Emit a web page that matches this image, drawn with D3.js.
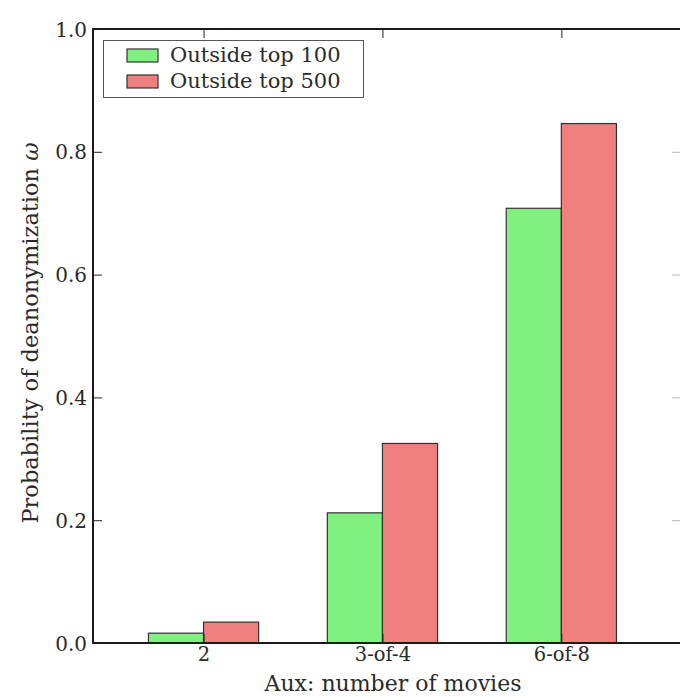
<!DOCTYPE html>
<html>
<head>
<meta charset="utf-8">
<script src="https://cdn.jsdelivr.net/npm/d3@7"></script>
<style>
  html, body { margin: 0; padding: 0; background: #fff; }
  svg { display: block; }
  text { font-family: "DejaVu Serif", "Liberation Serif", serif; fill: #2a2a2a; }
</style>
</head>
<body>
<svg id="chart" width="680" height="697"></svg>
<script>
const categories = ["2", "3-of-4", "6-of-8"];
const seriesNames = ["Outside top 100", "Outside top 500"];
const top100 = [0.016, 0.212, 0.708];
const top500 = [0.034, 0.325, 0.846];
const yTicks = [0.0, 0.2, 0.4, 0.6, 0.8, 1.0];
const colors = ["#80f080", "#f08080"];

const svg = d3.select("#chart");
const mLeft = 93, mRight = 683, mTop = 29, mBottom = 643;

const x = d3.scaleLinear().domain([-0.618, 2.68]).range([mLeft, mRight]);
const y = d3.scaleLinear().domain([0, 1]).range([mBottom, mTop]);
const barW = 0.308;

const series = [top100, top500];
const g = svg.append("g");

series.forEach((vals, s) => {
  g.selectAll(null).data(vals).enter().append("rect")
    .attr("x", (d, i) => s === 0 ? x(i - barW) : x(i))
    .attr("width", x(barW) - x(0))
    .attr("y", d => y(d))
    .attr("height", d => y(0) - y(d))
    .attr("fill", colors[s])
    .attr("stroke", "#333")
    .attr("stroke-width", 1.2);
});

// y-axis (left) with inward ticks
const yAxis = d3.axisLeft(y).tickValues(yTicks).tickFormat(d3.format(".1f")).tickSizeInner(-9).tickSizeOuter(0).tickPadding(6);
const ya = svg.append("g").attr("transform", `translate(${mLeft},0)`).call(yAxis);
ya.select(".domain").remove();
ya.selectAll(".tick line").attr("stroke", "#222").attr("stroke-width", 1);
ya.selectAll(".tick text").attr("font-size", 20).attr("font-family", "DejaVu Serif").attr("fill", "#2a2a2a").attr("dy", "0.35em");

// right side ticks (faint, spine out of view)
const yr = svg.append("g").attr("transform", `translate(${mRight},0)`)
  .call(d3.axisRight(y).tickValues(yTicks).tickFormat("").tickSizeInner(-11).tickSizeOuter(0));
yr.select(".domain").remove();
yr.selectAll(".tick line").attr("stroke", "#bbb").attr("stroke-width", 1);

// x-axis bottom
const xAxis = d3.axisBottom(x).tickValues([0, 1, 2]).tickFormat(i => categories[i]).tickSizeInner(-9).tickSizeOuter(0).tickPadding(4);
const xa = svg.append("g").attr("transform", `translate(0,${mBottom})`).call(xAxis);
xa.select(".domain").remove();
xa.selectAll(".tick line").attr("stroke", "#222");
xa.selectAll(".tick text").attr("font-size", 19.5).attr("font-family", "DejaVu Serif").attr("fill", "#2a2a2a");

// top ticks
const xt = svg.append("g").attr("transform", `translate(0,${mTop})`)
  .call(d3.axisTop(x).tickValues([0, 1, 2]).tickFormat("").tickSizeInner(-9).tickSizeOuter(0));
xt.select(".domain").remove();
xt.selectAll(".tick line").attr("stroke", "#222");

// spines
svg.append("rect").attr("x", mLeft).attr("y", mTop).attr("width", mRight - mLeft).attr("height", mBottom - mTop)
  .attr("fill", "none").attr("stroke", "#1a1a1a").attr("stroke-width", 2);

// axis labels
svg.append("text").attr("x", 393).attr("y", 691).attr("text-anchor", "middle")
  .attr("font-size", 22).text("Aux: number of movies");

const yl = svg.append("text").attr("transform", "translate(38,333) rotate(-90)")
  .attr("text-anchor", "middle").attr("font-size", 22.5);
yl.append("tspan").text("Probability of deanonymization ");
yl.append("tspan").attr("font-style", "italic").text("ω");

// legend
const lg = svg.append("g");
lg.append("rect").attr("x", 103.5).attr("y", 40.5).attr("width", 260).attr("height", 57)
  .attr("fill", "#fff").attr("stroke", "#555").attr("stroke-width", 1);
seriesNames.forEach((name, i) => {
  const yy = 49 + i * 26;
  lg.append("rect").attr("x", 127).attr("y", yy).attr("width", 31).attr("height", 13)
    .attr("fill", colors[i]).attr("stroke", "#333").attr("stroke-width", 1.2);
  lg.append("text").attr("x", 170).attr("y", yy + 13).attr("font-size", 21).text(name);
});
</script>
</body>
</html>
